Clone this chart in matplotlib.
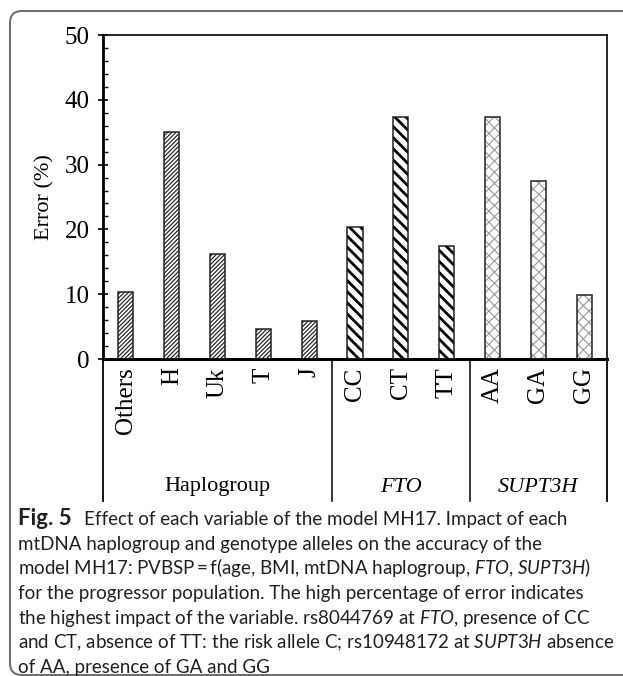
import matplotlib
matplotlib.use("Agg")
import matplotlib.pyplot as plt
import matplotlib.transforms as mtransforms
from matplotlib.patches import FancyBboxPatch

# data
categories = ["Others", "H", "Uk", "T", "J", "CC", "CT", "TT", "AA", "GA", "GG"]
errors = [10.4, 35.0, 16.2, 4.7, 5.8, 20.3, 37.3, 17.4, 37.3, 27.4, 9.8]
groups = ["Haplogroup", "FTO", "SUPT3H"]
group_sizes = [5, 3, 3]

fig_label = "Fig. 5"
caption_lines = [
    "Effect of each variable of the model MH17. Impact of each",
    "mtDNA haplogroup and genotype alleles on the accuracy of the",
    r"model MH17: PVBSP$\,$=$\,$f(age, BMI, mtDNA haplogroup, $\mathit{FTO}$, $\mathit{SUPT3H}$)",
    "for the progressor population. The high percentage of error indicates",
    r"the highest impact of the variable. rs8044769 at $\mathit{FTO}$, presence of CC",
    r"and CT, absence of TT: the risk allele C; rs10948172 at $\mathit{SUPT3H}$ absence",
    "of AA, presence of GA and GG",
]

plt.rcParams["mathtext.fontset"] = "custom"
plt.rcParams["mathtext.rm"] = "Lato"
plt.rcParams["mathtext.it"] = "Lato:italic"
plt.rcParams["mathtext.bf"] = "Lato:bold"

W, H = 623, 676
fig = plt.figure(figsize=(W / 100, H / 100), dpi=100)

# axes box in pixels: left 103, right 607, top 35, zero line 359
ax = fig.add_axes([103 / W, 1 - 359 / H, 504 / W, 324 / H])

serif = "Liberation Serif"
fs = 16
tfs = 18

# hatch style per group: (hatch, hatch colour, hatch linewidth)
styles = [("////////", "#2a2a2a", 0.9),
          ("\\\\\\", "black", 2.0),
          ("xxx", "#9a9a9a", 0.8)]

xpos = list(range(len(categories)))
start = 0
for (hatch, hc, hlw), n in zip(styles, group_sizes):
    plt.rcParams["hatch.linewidth"] = hlw
    xs = xpos[start:start + n]
    ys = errors[start:start + n]
    bars = ax.bar(xs, ys, width=0.33, color="white", edgecolor=hc,
                  hatch=hatch, linewidth=0, zorder=2)
    for b in bars:
        if hasattr(b, "set_hatch_linewidth"):
            b.set_hatch_linewidth(hlw)
    ax.bar(xs, ys, width=0.33, fill=False, edgecolor="#222222",
           linewidth=1.1, zorder=3)
    start += n

ax.set_xlim(-0.5, len(categories) - 0.5)
ax.set_ylim(0, 50)
ax.set_yticks(range(0, 51, 10))
ax.set_yticks(range(0, 51, 2), minor=True)
ax.tick_params(axis="y", which="major", direction="inout", length=7.2,
               width=1.2, pad=6.0, labelsize=tfs)
ax.tick_params(axis="y", which="minor", direction="in", length=3.6, width=1.0)
for lab in ax.get_yticklabels():
    lab.set_fontfamily(serif)

ax.set_xticks(xpos)
ax.set_xticklabels(categories, rotation=90, fontsize=tfs, family=serif)
ax.tick_params(axis="x", length=0, pad=6)

ax.spines["left"].set_linewidth(2.0)
ax.spines["bottom"].set_linewidth(2.2)
ax.spines["top"].set_linewidth(1.2)
ax.spines["right"].set_linewidth(1.2)

# lines below the axis: edges and group separators
low = -142 / 324
trans = mtransforms.blended_transform_factory(ax.transData, ax.transAxes)
ax.plot([0, 0], [0, low], transform=ax.transAxes, color="black", lw=1.3, clip_on=False)
ax.plot([1, 1], [0, low], transform=ax.transAxes, color="black", lw=1.3, clip_on=False)
edge = -0.5
for n in group_sizes[:-1]:
    edge += n
    ax.plot([edge, edge], [0, low], transform=trans, color="black", lw=1.1, clip_on=False)

# group names
edge = -0.5
for g, n in zip(groups, group_sizes):
    style = "normal" if g == "Haplogroup" else "italic"
    ax.text(edge + n / 2, -128 / 324, g, transform=trans, ha="center",
            va="center", fontsize=fs, family=serif, style=style)
    edge += n

fig.text(45 / W, 1 - 197 / H, "Error (%)", rotation=90, ha="center",
         va="center", fontsize=fs, family=serif)

# caption
fig.text(18 / W, 1 - 525 / H, fig_label, ha="left", va="baseline",
         fontsize=16, family="Lato", weight="bold", color="#231f20")
for i, line in enumerate(caption_lines):
    y = 525 + i * 24.7
    x = 84 if i == 0 else 18
    fig.text(x / W, 1 - y / H, line, ha="left", va="baseline",
             fontsize=13.5, family="Lato", color="#231f20")

# rounded frame, cut off on the right
frame = FancyBboxPatch((10, 1), 660, 664,
                       boxstyle="round,pad=0,rounding_size=12",
                       transform=mtransforms.IdentityTransform(),
                       fill=False, edgecolor="#707070", linewidth=1.5)
fig.patches.append(frame)

fig.savefig("out.png", dpi=100)
